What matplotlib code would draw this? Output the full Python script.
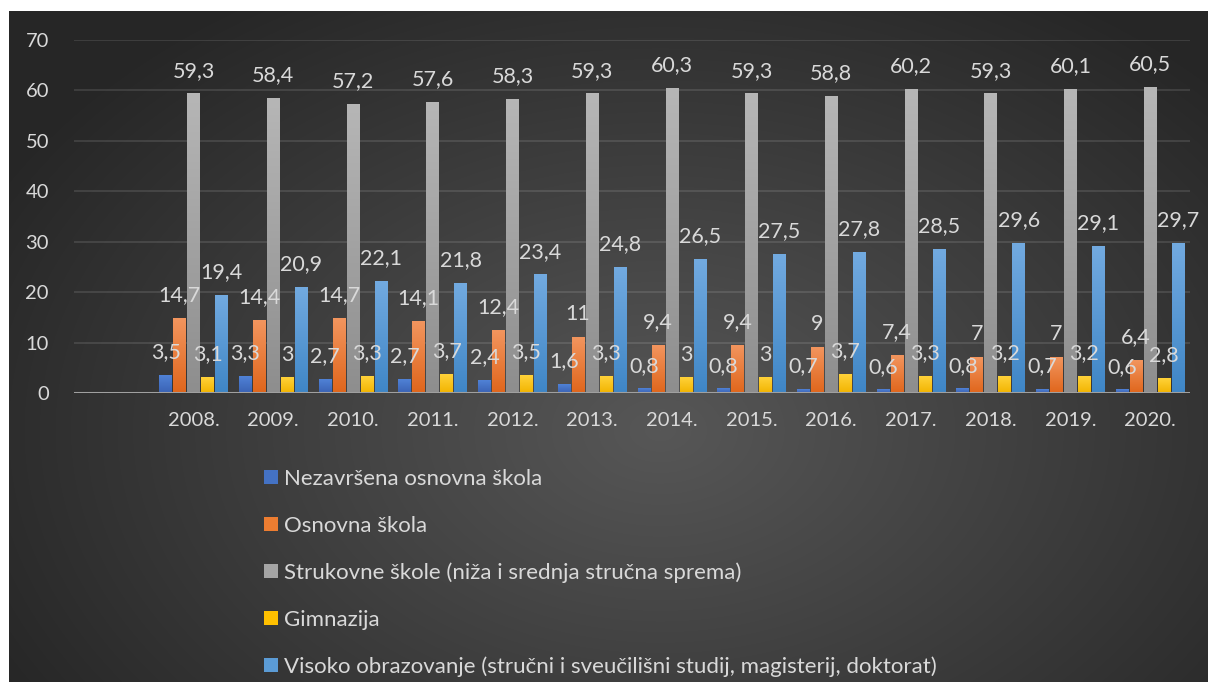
import numpy as np
import matplotlib
matplotlib.use("Agg")
import matplotlib.pyplot as plt
from matplotlib.patches import Patch
from matplotlib.colors import to_rgb

categories = ["", "2008.", "2009.", "2010.", "2011.", "2012.", "2013.", "2014.",
              "2015.", "2016.", "2017.", "2018.", "2019.", "2020."]
nezavrsena = [None, 3.5, 3.3, 2.7, 2.7, 2.4, 1.6, 0.8, 0.8, 0.7, 0.6, 0.8, 0.7, 0.6]
osnovna = [None, 14.7, 14.4, 14.7, 14.1, 12.4, 11, 9.4, 9.4, 9, 7.4, 7, 7, 6.4]
strukovne = [None, 59.3, 58.4, 57.2, 57.6, 58.3, 59.3, 60.3, 59.3, 58.8, 60.2, 59.3, 60.1, 60.5]
gimnazija = [None, 3.1, 3, 3.3, 3.7, 3.5, 3.3, 3, 3, 3.7, 3.3, 3.2, 3.2, 2.8]
visoko = [None, 19.4, 20.9, 22.1, 21.8, 23.4, 24.8, 26.5, 27.5, 27.8, 28.5, 29.6, 29.1, 29.7]

series_names = ["Nezavršena osnovna škola",
                "Osnovna škola",
                "Strukovne škole (niža i srednja stručna sprema)",
                "Gimnazija",
                "Visoko obrazovanje (stručni i sveučilišni studij, magisterij, doktorat)"]
series = [nezavrsena, osnovna, strukovne, gimnazija, visoko]
colors = ["#4472C4", "#ED7D31", "#A5A5A5", "#FFC000", "#5B9BD5"]
tops = ["#5082d6", "#f2955e", "#b6b6b6", "#ffd23a", "#72aae0"]
bottoms = ["#3a62b4", "#e0661c", "#8e8e8e", "#f2b400", "#3f86c6"]

plt.rcParams['font.family'] = ['Lato', 'DejaVu Sans']
TXT = "#d9d9d9"

W, H = 1209, 683
fig = plt.figure(figsize=(W / 100, H / 100), dpi=100)
fig.patch.set_facecolor("white")

# background panel with radial gradient
bx0, bx1, by0, by1 = 9, 1208, 11, 682
bg = fig.add_axes([bx0 / W, 1 - by1 / H, (bx1 - bx0) / W, (by1 - by0) / H])
bg.set_axis_off()
yy, xx = np.mgrid[by0:by1, bx0:bx1]
cx, cy = 660, 430
r = np.sqrt(((xx - cx) / 760.0) ** 2 + ((yy - cy) / 520.0) ** 2)
r = np.clip(r, 0, 1)
c_in = np.array(to_rgb("#575757"))
c_out = np.array(to_rgb("#262626"))
img = c_in[None, None, :] * (1 - r[..., None]) + c_out[None, None, :] * r[..., None]
bg.imshow(img, aspect="auto", extent=(0, 1, 0, 1), origin="upper", interpolation="bilinear")
bg.set_xlim(0, 1)
bg.set_ylim(0, 1)

# main axes
ax_l, ax_r, ax_t, ax_b = 74, 1190, 40, 393
ax = fig.add_axes([ax_l / W, 1 - ax_b / H, (ax_r - ax_l) / W, (ax_b - ax_t) / H])
ax.set_facecolor("none")
for s in ax.spines.values():
    s.set_visible(False)

n = len(categories)
x = np.arange(n)
step = 0.1757
width = 0.157

def fmt(v):
    if float(v).is_integer():
        return str(int(v))
    return ("%.1f" % v).replace(".", ",")

grad = np.linspace(1, 0, 64)[:, None]
for i, (vals, col, tc, bc) in enumerate(zip(series, colors, tops, bottoms)):
    offs = (i - 2) * step
    xs = [xi + offs for xi, v in zip(x, vals) if v is not None]
    vs = [v for v in vals if v is not None]
    bars = ax.bar(xs, vs, width=width, color=col, zorder=3, linewidth=0)
    t = np.array(to_rgb(tc)); b = np.array(to_rgb(bc))
    g = t[None, None, :] * grad[..., None] + b[None, None, :] * (1 - grad[..., None])
    for bar, v in zip(bars, vs):
        x0 = bar.get_x()
        ax.imshow(g, extent=(x0, x0 + width, 0, v), aspect="auto", zorder=3.5,
                  interpolation="bilinear")
        ax.annotate(fmt(v), (x0 + width / 2, v), xytext=(0, 12.5), textcoords="offset points",
                    ha="center", va="baseline", color=TXT, fontsize=15.5, zorder=5)

ax.set_xlim(-0.5, n - 0.5)
ax.set_ylim(0, 70)
ax.set_yticks(np.arange(0, 71, 10))
ax.set_xticks(x)
ax.set_xticklabels(categories)
ax.tick_params(axis="both", length=0, colors=TXT)
ax.tick_params(axis="x", pad=14, labelsize=14.5)
ax.tick_params(axis="y", pad=18, labelsize=14.5)
ax.yaxis.grid(True, color="#ffffff", alpha=0.12, linewidth=1.3, zorder=0)
ax.set_axisbelow(True)
ax.axhline(0, color="#a0a0a0", linewidth=2.2, zorder=4)

handles = [Patch(facecolor=c, edgecolor="none") for c in colors]
leg = fig.legend(handles, series_names, loc="upper left",
                 bbox_to_anchor=(264 / W, 1 - 469 / H), frameon=False,
                 fontsize=16, labelcolor=TXT, handlelength=0.62, handleheight=0.62,
                 handletextpad=0.3, labelspacing=1.2, borderpad=0, borderaxespad=0)

fig.savefig("out.png", dpi=100, facecolor=fig.get_facecolor())
